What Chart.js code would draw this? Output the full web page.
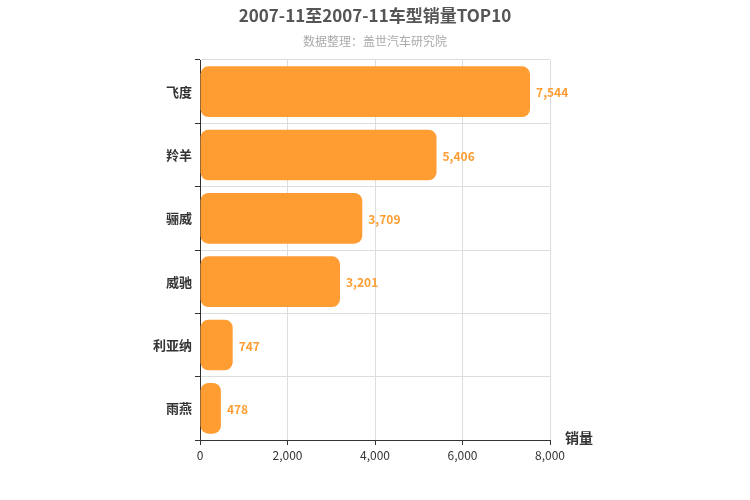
<!DOCTYPE html>
<html>
<head>
<meta charset="utf-8">
<script src="https://cdn.jsdelivr.net/npm/chart.js@4/dist/chart.umd.min.js"></script>
<style>
  body { margin: 0; background: #fff; }
</style>
</head>
<body>
<canvas id="c" width="750" height="500"></canvas>
<script>
const categories = ["飞度", "羚羊", "骊威", "威驰", "利亚纳", "雨燕"]
const sales = [7544, 5406, 3709, 3201, 747, 478]
const xTicks = [0, 2000, 4000, 6000, 8000]

const FONT = "'Noto Sans CJK SC', 'Noto Sans', sans-serif"
const ORANGE = "#ff9d33"

// title, subtitle, value labels and axis name
const decorations = {
    id: "decorations",
    afterDatasetsDraw(chart) {
        const ctx = chart.ctx
        ctx.save()
        ctx.textAlign = "center"
        ctx.textBaseline = "middle"
        ctx.fillStyle = "#555"
        ctx.font = "bold 17px " + FONT
        ctx.fillText("2007-11至2007-11车型销量TOP10", 375, 16)
        ctx.fillStyle = "#aaa"
        ctx.font = "12px " + FONT
        ctx.fillText("数据整理：盖世汽车研究院", 375, 41)

        ctx.fillStyle = ORANGE
        ctx.font = "bold 12px " + FONT
        ctx.textAlign = "left"
        chart.getDatasetMeta(0).data.forEach((bar, i) => {
            ctx.fillText(sales[i].toLocaleString("en-US"), bar.x + 6, bar.y + 1)
        })

        ctx.fillStyle = "#333"
        ctx.font = "bold 14px " + FONT
        ctx.fillText("销量", 565, 438)
        ctx.restore()
    }
}

new Chart(document.getElementById("c"), {
    type: "bar",
    data: {
        labels: categories,
        datasets: [{
            data: sales,
            backgroundColor: ORANGE,
            borderRadius: 8,
            borderSkipped: false,
            categoryPercentage: 0.8,
            barPercentage: 1
        }]
    },
    options: {
        indexAxis: "y",
        responsive: false,
        animation: false,
        devicePixelRatio: 1,
        layout: { padding: { top: 60, right: 200, left: 0, bottom: 0 } },
        plugins: { legend: { display: false }, tooltip: { enabled: false } },
        scales: {
            x: {
                min: 0, max: 8000,
                afterFit: s => { s.height = 60 },
                afterBuildTicks: s => { s.ticks = xTicks.map(v => ({ value: v })) },
                grid: { color: "#ddd", drawTicks: true, tickLength: 5, tickColor: "#333" },
                border: { color: "#333" },
                ticks: {
                    color: "#333", font: { size: 12, family: FONT }, maxRotation: 0,
                    callback: v => v.toLocaleString("en-US")
                }
            },
            y: {
                afterFit: s => { s.width = 200 },
                grid: { color: "#ddd", offset: true, tickLength: 5, tickColor: "#333" },
                border: { color: "#333" },
                ticks: { color: "#333", font: { size: 13, weight: "bold", family: FONT } }
            }
        }
    },
    plugins: [decorations]
})
</script>
</body>
</html>
